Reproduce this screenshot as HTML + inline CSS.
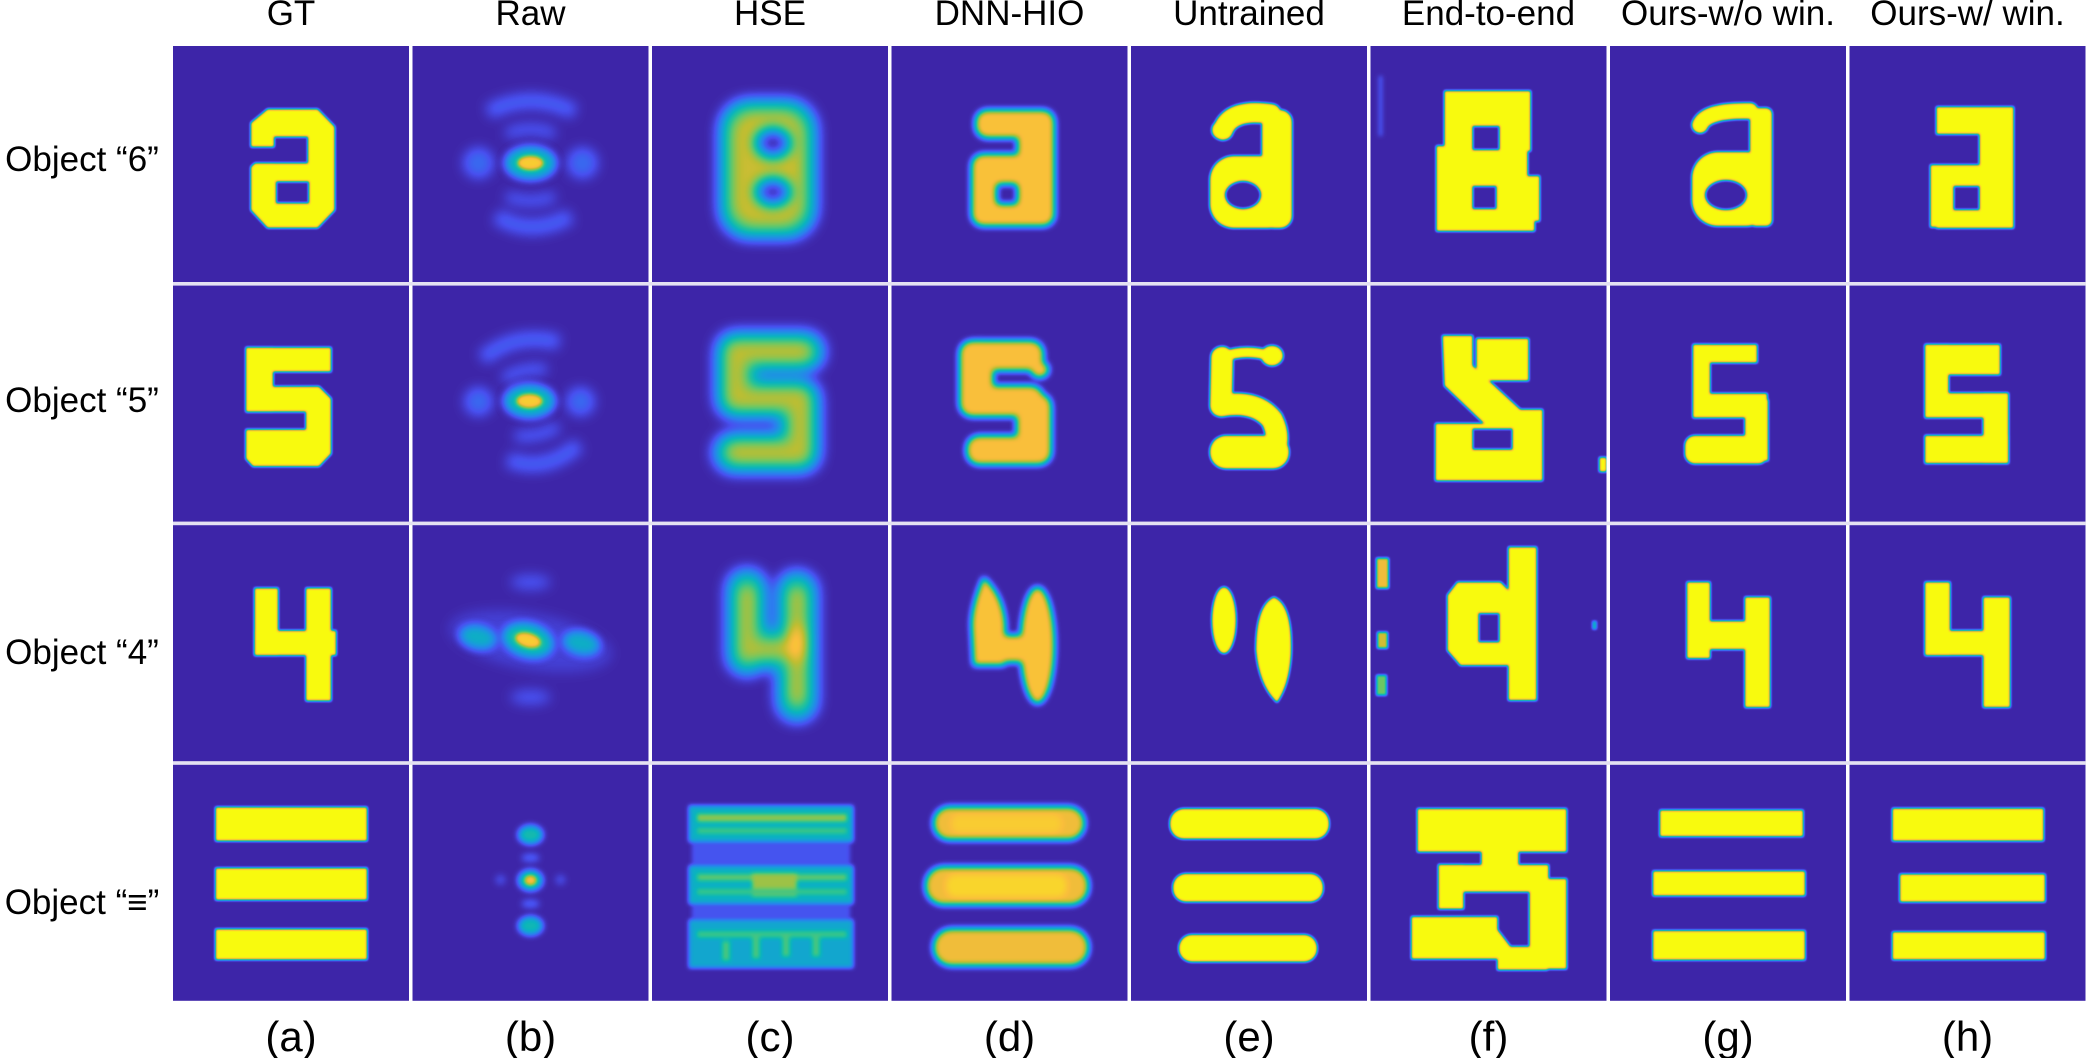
<!DOCTYPE html>
<html><head><meta charset="utf-8"><style>
html,body{margin:0;padding:0;background:#fff;}
svg{display:block;}
text{font-family:"Liberation Sans","DejaVu Sans",sans-serif;fill:#000;}
</style></head><body>
<svg width="2086" height="1058" viewBox="0 0 2086 1058" xmlns="http://www.w3.org/2000/svg">
<defs>
<filter id="par" x="0" y="0" width="236" height="236" filterUnits="userSpaceOnUse" color-interpolation-filters="sRGB">
<feComponentTransfer>
<feFuncR type="table" tableValues="0.243 0.282 0.176 0.098 0.039 0.157 0.431 0.745 0.98 0.98 0.976"/>
<feFuncG type="table" tableValues="0.149 0.314 0.49 0.608 0.706 0.765 0.784 0.745 0.745 0.863 0.984"/>
<feFuncB type="table" tableValues="0.659 0.941 0.941 0.863 0.745 0.588 0.392 0.196 0.235 0.157 0.055"/>
<feFuncA type="identity"/>
</feComponentTransfer>
</filter>
<filter id="b1" x="-60" y="-60" width="360" height="360" filterUnits="userSpaceOnUse" color-interpolation-filters="sRGB"><feGaussianBlur stdDeviation="1.2"/></filter>
<filter id="b2" x="-60" y="-60" width="360" height="360" filterUnits="userSpaceOnUse" color-interpolation-filters="sRGB"><feGaussianBlur stdDeviation="2.2"/></filter>
<filter id="b3" x="-60" y="-60" width="360" height="360" filterUnits="userSpaceOnUse" color-interpolation-filters="sRGB"><feGaussianBlur stdDeviation="3.2"/></filter>
<filter id="b4" x="-60" y="-60" width="360" height="360" filterUnits="userSpaceOnUse" color-interpolation-filters="sRGB"><feGaussianBlur stdDeviation="4.5"/></filter>
<filter id="b6" x="-60" y="-60" width="360" height="360" filterUnits="userSpaceOnUse" color-interpolation-filters="sRGB"><feGaussianBlur stdDeviation="6"/></filter>
<filter id="b7" x="-60" y="-60" width="360" height="360" filterUnits="userSpaceOnUse" color-interpolation-filters="sRGB"><feGaussianBlur stdDeviation="7"/></filter>
</defs>

<!-- separators -->
<rect x="173" y="282" width="1913" height="3.6" fill="#e4e1f2"/>
<rect x="173" y="521.6" width="1913" height="3.6" fill="#e4e1f2"/>
<rect x="173" y="761.2" width="1913" height="3.6" fill="#e4e1f2"/>

<!-- headers -->
<g font-size="35" text-anchor="middle">
<text x="291" y="25">GT</text>
<text x="530.5" y="25">Raw</text>
<text x="770" y="25">HSE</text>
<text x="1009.5" y="25">DNN-HIO</text>
<text x="1249" y="25">Untrained</text>
<text x="1488.5" y="25">End-to-end</text>
<text x="1728" y="25">Ours-w/o win.</text>
<text x="1967.5" y="25">Ours-w/ win.</text>
</g>
<!-- row labels -->
<g font-size="35" text-anchor="middle">
<text x="82" y="171">Object “6”</text>
<text x="82" y="412">Object “5”</text>
<text x="82" y="664">Object “4”</text>
<text x="82" y="914">Object “≡”</text>
</g>
<!-- bottom labels -->
<g font-size="42" text-anchor="middle">
<text x="291" y="1051">(a)</text>
<text x="530.5" y="1051">(b)</text>
<text x="770" y="1051">(c)</text>
<text x="1009.5" y="1051">(d)</text>
<text x="1249" y="1051">(e)</text>
<text x="1488.5" y="1051">(f)</text>
<text x="1728" y="1051">(g)</text>
<text x="1967.5" y="1051">(h)</text>
</g>

<!-- ================= ROW 0 ================= -->
<g transform="translate(173,46)"><g filter="url(#par)"><rect width="236" height="236" fill="#000"/>
<g filter="url(#b1)">
<path d="M78 77 L94.6 63.3 L144.6 63.3 L161.6 80.7 L161.6 164 L144.6 181.7 L94.6 181.7 L78 164 L78 121 L82 117.3 L101 117.3 L101 100.7 L78 100.7 Z" fill="#fff"/>
<rect x="101" y="90.7" width="34" height="26.6" fill="#000"/>
<rect x="103" y="135.5" width="33" height="21.8" fill="#000"/>
</g></g></g>
<g transform="translate(412.5,46)"><g filter="url(#par)"><rect width="236" height="236" fill="#000"/>
<g filter="url(#b6)" fill="none">
<path d="M76 66 Q118 44 162 66" stroke="#262626" stroke-width="14"/>
<path d="M94 88 Q118 78 142 88" stroke="#262626" stroke-width="9"/>
<path d="M94 150 Q118 160 142 150" stroke="#262626" stroke-width="9"/>
<path d="M84 170 Q118 192 158 170" stroke="#262626" stroke-width="14"/>
<ellipse cx="66" cy="117" rx="15" ry="15" fill="#282828"/>
<ellipse cx="170" cy="117" rx="15" ry="15" fill="#282828"/>
</g>
<g filter="url(#b4)"><ellipse cx="118" cy="117" rx="25" ry="16" fill="#6a6a6a"/></g>
<g filter="url(#b2)"><ellipse cx="118" cy="117" rx="13" ry="7" fill="#d8d8d8"/></g>
</g></g>
<g transform="translate(652,46)"><g filter="url(#par)"><rect width="236" height="236" fill="#000"/>
<g filter="url(#b7)">
<rect x="68" y="54" width="96" height="138" rx="30" fill="#7c7c7c"/>
<rect x="80" y="66" width="72" height="114" rx="22" fill="#b8b8b8"/>
<ellipse cx="121" cy="97" rx="17" ry="14" fill="#000"/>
<ellipse cx="121" cy="146" rx="17" ry="13" fill="#000"/>
</g></g></g>
<g transform="translate(891.5,46)"><g filter="url(#par)"><rect width="236" height="236" fill="#000"/>
<g filter="url(#b3)" fill="#cfcfcf">
<rect x="84" y="64" width="72" height="28" rx="12"/>
<rect x="126" y="64" width="37" height="116" rx="12"/>
<rect x="80" y="108" width="83" height="72" rx="12"/>
<rect x="105" y="138" width="21" height="20" rx="4" fill="#000"/>
</g></g></g>
<g transform="translate(1131,46)"><g filter="url(#par)"><rect width="236" height="236" fill="#000"/>
<g filter="url(#b1)">
<rect x="131" y="64" width="30" height="118" rx="12" fill="#fff"/>
<path d="M92 84 Q100 62 140 68" stroke="#fff" stroke-width="20" stroke-linecap="round" fill="none"/>
<circle cx="90" cy="84" r="9" fill="#fff"/>
<rect x="79" y="110" width="82" height="72" rx="24" fill="#fff"/>
<ellipse cx="112" cy="149" rx="18" ry="14" fill="#000"/>
</g></g></g>
<g transform="translate(1370.5,46)"><g filter="url(#par)"><rect width="236" height="236" fill="#000"/>
<g filter="url(#b1)" fill="#fff">
<rect x="74" y="45" width="86" height="35"/>
<rect x="74" y="45" width="28" height="60"/>
<rect x="66" y="100" width="36" height="85"/>
<rect x="129" y="45" width="31" height="60"/>
<rect x="70" y="104" width="87" height="36"/>
<rect x="126" y="130" width="43" height="45"/>
<rect x="66" y="163" width="98" height="22"/>
</g>
<g filter="url(#b2)"><rect x="8" y="30" width="4" height="60" fill="#1e1e1e"/></g>
</g></g>
<g transform="translate(1610,46)"><g filter="url(#par)"><rect width="236" height="236" fill="#000"/>
<g filter="url(#b1)">
<path d="M90 79 Q96 64 140 65" stroke="#fff" stroke-width="16" stroke-linecap="round" fill="none"/>
<rect x="140" y="62" width="22" height="118" rx="6" fill="#fff"/>
<rect x="82" y="106" width="80" height="74" rx="26" fill="#fff"/>
<ellipse cx="116" cy="149" rx="21" ry="15" fill="#000"/>
</g></g></g>
<g transform="translate(1849.5,46)"><g filter="url(#par)"><rect width="236" height="236" fill="#000"/>
<g filter="url(#b1)" fill="#fff">
<rect x="87" y="61" width="68" height="27"/>
<rect x="130" y="61" width="34" height="121"/>
<rect x="81" y="119" width="83" height="21"/>
<rect x="81" y="119" width="23" height="62"/>
<rect x="87" y="164" width="77" height="18"/>
</g></g></g>

<!-- ================= ROW 1 ================= -->
<g transform="translate(173,285.6)"><g filter="url(#par)"><rect width="236" height="236" fill="#000"/>
<g filter="url(#b1)" fill="#fff">
<rect x="73" y="62" width="85" height="24"/>
<rect x="73" y="62" width="27" height="64"/>
<path d="M73 101 L146 101 L158 113 L158 168 L146 180.6 L80 180.6 L73 173 L73 144 L133 144 L133 126 L73 126 Z"/>
</g></g></g>
<g transform="translate(412.5,285.6)"><g filter="url(#par)"><rect width="236" height="236" fill="#000"/>
<g filter="url(#b6)" fill="none">
<g transform="rotate(-12 118 116)">
<path d="M80 64 Q118 44 158 64" stroke="#262626" stroke-width="14"/>
<path d="M96 88 Q118 80 140 88" stroke="#282828" stroke-width="9"/>
<path d="M96 146 Q118 154 140 146" stroke="#282828" stroke-width="9"/>
<path d="M84 168 Q118 190 156 168" stroke="#262626" stroke-width="14"/>
</g>
<ellipse cx="66" cy="116" rx="14" ry="14" fill="#282828"/>
<ellipse cx="168" cy="116" rx="14" ry="14" fill="#282828"/>
</g>
<g filter="url(#b4)"><ellipse cx="117" cy="115.5" rx="25" ry="16" fill="#6a6a6a"/></g>
<g filter="url(#b2)"><ellipse cx="117" cy="115.5" rx="13" ry="7" fill="#d8d8d8"/></g>
</g></g>
<g transform="translate(652,285.6)"><g filter="url(#par)"><rect width="236" height="236" fill="#000"/>
<g filter="url(#b7)" fill="none" stroke-linecap="round" stroke-linejoin="round">
<path d="M152 66 L84 66 L84 113 L148 113 L148 167 L82 167" stroke="#6e6e6e" stroke-width="40"/>
<path d="M150 66 L84 66 L84 113 L148 113 L148 167 L84 167" stroke="#b4b4b4" stroke-width="22"/>
</g></g></g>
<g transform="translate(891.5,285.6)"><g filter="url(#par)"><rect width="236" height="236" fill="#000"/>
<g filter="url(#b3)" fill="#cdcdcd">
<rect x="74" y="55" width="78" height="30" rx="13"/>
<ellipse cx="148" cy="84" rx="9" ry="8"/>
<rect x="68" y="55" width="34" height="74" rx="13"/>
<rect x="68" y="100" width="84" height="31" rx="13"/>
<rect x="125" y="108" width="35" height="64" rx="13"/>
<rect x="75" y="150" width="85" height="29" rx="13"/>
</g></g></g>
<g transform="translate(1131,285.6)"><g filter="url(#par)"><rect width="236" height="236" fill="#000"/>
<g filter="url(#b1)" fill="none" stroke="#fff" stroke-linecap="round" stroke-linejoin="round">
<path d="M92 71 Q115 63 138 70" stroke-width="10"/>
<ellipse cx="141" cy="70" rx="11" ry="10" fill="#fff" stroke="none"/>
<path d="M91 72 L90 120 Q125 114 141 134 Q150 152 142 168" stroke-width="22"/>
<rect x="79" y="150" width="79" height="33" rx="16" fill="#fff" stroke="none"/>
</g></g></g>
<g transform="translate(1370.5,285.6)"><g filter="url(#par)"><rect width="236" height="236" fill="#000"/>
<g filter="url(#b1)" fill="#fff">
<rect x="106" y="53" width="52" height="42"/>
<polygon points="72,50 102,50 102,80 152,126 152,142 118,142 74,100"/>
<rect x="65" y="138" width="107" height="57"/>
<rect x="140" y="124" width="32" height="70"/>
<rect x="102" y="143" width="40" height="21" fill="#000"/>
<rect x="229" y="172" width="7" height="14"/>
</g></g></g>
<g transform="translate(1610,285.6)"><g filter="url(#par)"><rect width="236" height="236" fill="#000"/>
<g filter="url(#b1)" fill="#fff">
<rect x="83" y="59" width="64" height="18"/>
<rect x="83" y="59" width="17" height="67"/>
<rect x="83" y="108" width="74" height="24"/>
<rect x="135" y="114" width="23" height="61"/>
<rect x="75" y="150" width="83" height="28" rx="10"/>
</g></g></g>
<g transform="translate(1849.5,285.6)"><g filter="url(#par)"><rect width="236" height="236" fill="#000"/>
<g filter="url(#b1)" fill="#fff">
<rect x="75.5" y="59" width="75" height="30"/>
<rect x="75.5" y="59" width="23.5" height="67"/>
<rect x="75.5" y="107.5" width="83" height="24.5"/>
<rect x="133.8" y="107.5" width="25" height="70"/>
<rect x="75.5" y="150" width="83.3" height="27.6"/>
</g></g></g>

<!-- ================= ROW 2 ================= -->
<g transform="translate(173,525.2)"><g filter="url(#par)"><rect width="236" height="236" fill="#000"/>
<g filter="url(#b1)" fill="#fff">
<rect x="81.7" y="63" width="23.3" height="67"/>
<rect x="133" y="63" width="25" height="112.5"/>
<rect x="81.7" y="105.5" width="81.3" height="24.5"/>
</g></g></g>
<g transform="translate(412.5,525.2)"><g filter="url(#par)"><rect width="236" height="236" fill="#000"/>
<g filter="url(#b6)">
<ellipse cx="118" cy="57" rx="20" ry="7" fill="#1e1e1e"/>
<ellipse cx="118" cy="172" rx="20" ry="7" fill="#1e1e1e"/>
<ellipse cx="118" cy="116" rx="82" ry="28" fill="#101010" transform="rotate(10 118 116)"/>
</g>
<g filter="url(#b4)">
<ellipse cx="65.5" cy="112" rx="18" ry="11" fill="#606060" transform="rotate(12 65.5 112)"/>
<ellipse cx="168.8" cy="118" rx="18" ry="11" fill="#606060" transform="rotate(12 168.8 118)"/>
<ellipse cx="115.5" cy="115" rx="25" ry="16" fill="#727272" transform="rotate(15 115.5 115)"/>
</g>
<g filter="url(#b2)"><ellipse cx="115.5" cy="115" rx="13" ry="7" fill="#d8d8d8" transform="rotate(15 115.5 115)"/></g>
</g></g>
<g transform="translate(652,525.2)"><g filter="url(#par)"><rect width="236" height="236" fill="#000"/>
<g filter="url(#b7)" fill="none" stroke-linecap="round">
<path d="M95 64 L95 130 M145 66 L145 176 M95 124 L145 124" stroke="#6a6a6a" stroke-width="40"/>
<path d="M95 68 L95 128 M145 70 L145 172 M95 124 L145 124" stroke="#b0b0b0" stroke-width="20"/>
<ellipse cx="145" cy="118" rx="9" ry="18" fill="#e0e0e0"/>
</g></g></g>
<g transform="translate(891.5,525.2)"><g filter="url(#par)"><rect width="236" height="236" fill="#000"/>
<g filter="url(#b3)" fill="#d0d0d0">
<path d="M92 52 Q80 80 80 100 L82 140 L113 140 L114 100 Q112 70 92 52 Z"/>
<ellipse cx="146" cy="120" rx="17" ry="58"/>
<rect x="100" y="110" width="40" height="27"/>
</g></g></g>
<g transform="translate(1131,525.2)"><g filter="url(#par)"><rect width="236" height="236" fill="#000"/>
<g filter="url(#b1)" fill="#fff">
<ellipse cx="93" cy="95" rx="12" ry="33"/>
<path d="M143 72 Q162 80 160 130 Q158 160 146 177 Q128 160 125 125 Q125 80 143 72 Z"/>
</g></g></g>
<g transform="translate(1370.5,525.2)"><g filter="url(#par)"><rect width="236" height="236" fill="#000"/>
<g filter="url(#b1)" fill="#fff">
<rect x="138" y="22" width="28" height="153"/>
<polygon points="87,57 130,57 138,65 138,140 90,140 77,125 77,70"/>
<rect x="108" y="88" width="21" height="29" fill="#000"/>
<rect x="6" y="33" width="12" height="30" fill="#c8c8c8"/>
<rect x="7" y="107" width="10" height="16" fill="#bbb"/>
<rect x="6" y="150" width="10" height="20" fill="#999"/>
<rect x="222" y="96" width="4" height="8" fill="#666"/>
</g></g></g>
<g transform="translate(1610,525.2)"><g filter="url(#par)"><rect width="236" height="236" fill="#000"/>
<g filter="url(#b1)" fill="#fff">
<rect x="77" y="57" width="23" height="76"/>
<rect x="77" y="96" width="83" height="28"/>
<rect x="135" y="72" width="25" height="110"/>
</g></g></g>
<g transform="translate(1849.5,525.2)"><g filter="url(#par)"><rect width="236" height="236" fill="#000"/>
<g filter="url(#b1)" fill="#fff">
<rect x="75.5" y="57" width="25" height="73"/>
<rect x="75.5" y="105.5" width="85" height="24.5"/>
<rect x="133.8" y="72" width="26.7" height="110"/>
</g></g></g>

<!-- ================= ROW 3 ================= -->
<g transform="translate(173,764.8)"><g filter="url(#par)"><rect width="236" height="236" fill="#000"/>
<g filter="url(#b1)" fill="#fff">
<rect x="42.7" y="42.5" width="151.3" height="33.5"/>
<rect x="42.7" y="103.4" width="151.3" height="31.6"/>
<rect x="42.7" y="164.4" width="151.3" height="30.3"/>
</g></g></g>
<g transform="translate(412.5,764.8)"><g filter="url(#par)"><rect width="236" height="236" fill="#000"/>
<g filter="url(#b3)">
<ellipse cx="118" cy="93" rx="9" ry="4" fill="#242424"/>
<ellipse cx="118" cy="139" rx="9" ry="4" fill="#242424"/>
<ellipse cx="88" cy="115" rx="5" ry="5" fill="#181818"/>
<ellipse cx="148" cy="115" rx="5" ry="5" fill="#181818"/>
<ellipse cx="118" cy="70" rx="12" ry="9" fill="#707070"/>
<ellipse cx="118" cy="115.5" rx="12" ry="10" fill="#707070"/>
<ellipse cx="118" cy="161" rx="12" ry="9" fill="#6c6c6c"/>
</g>
<g filter="url(#b2)"><ellipse cx="118" cy="115.5" rx="6" ry="5" fill="#d0d0d0"/></g>
</g></g>
<g transform="translate(652,764.8)"><g filter="url(#par)"><rect width="236" height="236" fill="#000"/>
<g filter="url(#b2)">
<rect x="40" y="78" width="158" height="22" fill="#1c1c1c"/>
<rect x="40" y="140" width="158" height="14" fill="#1c1c1c"/>
<rect x="37" y="41" width="164" height="36" fill="#606060"/>
<rect x="45" y="49" width="150" height="8" fill="#a4a4a4"/>
<rect x="45" y="63" width="150" height="6" fill="#8a8a8a"/>
<rect x="37" y="101" width="164" height="38" fill="#606060"/>
<rect x="45" y="109" width="150" height="7" fill="#949494"/>
<rect x="100" y="108" width="45" height="24" fill="#a8a8a8"/>
<rect x="45" y="124" width="150" height="6" fill="#888"/>
<rect x="37" y="155" width="164" height="48" fill="#585858"/>
<rect x="45" y="166" width="150" height="7" fill="#888"/>
<rect x="70" y="176" width="8" height="20" fill="#8c8c8c"/>
<rect x="100" y="172" width="8" height="22" fill="#8c8c8c"/>
<rect x="130" y="170" width="8" height="22" fill="#8c8c8c"/>
<rect x="160" y="172" width="8" height="20" fill="#8c8c8c"/>
</g></g></g>
<g transform="translate(891.5,764.8)"><g filter="url(#par)"><rect width="236" height="236" fill="#000"/>
<g filter="url(#b3)">
<rect x="42" y="42" width="151" height="33" rx="16" fill="#c8c8c8"/>
<rect x="34" y="102" width="163" height="38" rx="18" fill="#c8c8c8"/>
<rect x="42" y="164" width="155" height="37" rx="18" fill="#c8c8c8"/>
<rect x="60" y="50" width="110" height="18" rx="8" fill="#d8d8d8"/>
<rect x="55" y="110" width="120" height="22" rx="9" fill="#e0e0e0"/>
</g></g></g>
<g transform="translate(1131,764.8)"><g filter="url(#par)"><rect width="236" height="236" fill="#000"/>
<g filter="url(#b1)" fill="#fff">
<rect x="39" y="44" width="159" height="30" rx="14"/>
<rect x="42" y="109" width="150" height="28" rx="13"/>
<rect x="48" y="170" width="138" height="27" rx="13"/>
</g></g></g>
<g transform="translate(1370.5,764.8)"><g filter="url(#par)"><rect width="236" height="236" fill="#000"/>
<g filter="url(#b1)" fill="#fff">
<rect x="47" y="44" width="149" height="43"/>
<rect x="111" y="86" width="37" height="18"/>
<rect x="68" y="100" width="110" height="27"/>
<rect x="68" y="100" width="25" height="44"/>
<rect x="159" y="114" width="37" height="90"/>
<rect x="41" y="152" width="86" height="42"/>
<polygon points="127,152 127,165 140,182 159,182 159,194 127,194"/>
<rect x="127" y="182" width="50" height="23"/>
</g></g></g>
<g transform="translate(1610,764.8)"><g filter="url(#par)"><rect width="236" height="236" fill="#000"/>
<g filter="url(#b1)" fill="#fff">
<rect x="50" y="45.5" width="143" height="26"/>
<rect x="43" y="106.4" width="152" height="24.4"/>
<rect x="43" y="166" width="152" height="29"/>
</g></g></g>
<g transform="translate(1849.5,764.8)"><g filter="url(#par)"><rect width="236" height="236" fill="#000"/>
<g filter="url(#b1)" fill="#fff">
<rect x="43" y="43.7" width="151" height="32.3"/>
<rect x="50.5" y="109.5" width="145" height="27.5"/>
<rect x="43" y="167.3" width="152.5" height="27.4"/>
</g></g></g>
</svg>
</body></html>
